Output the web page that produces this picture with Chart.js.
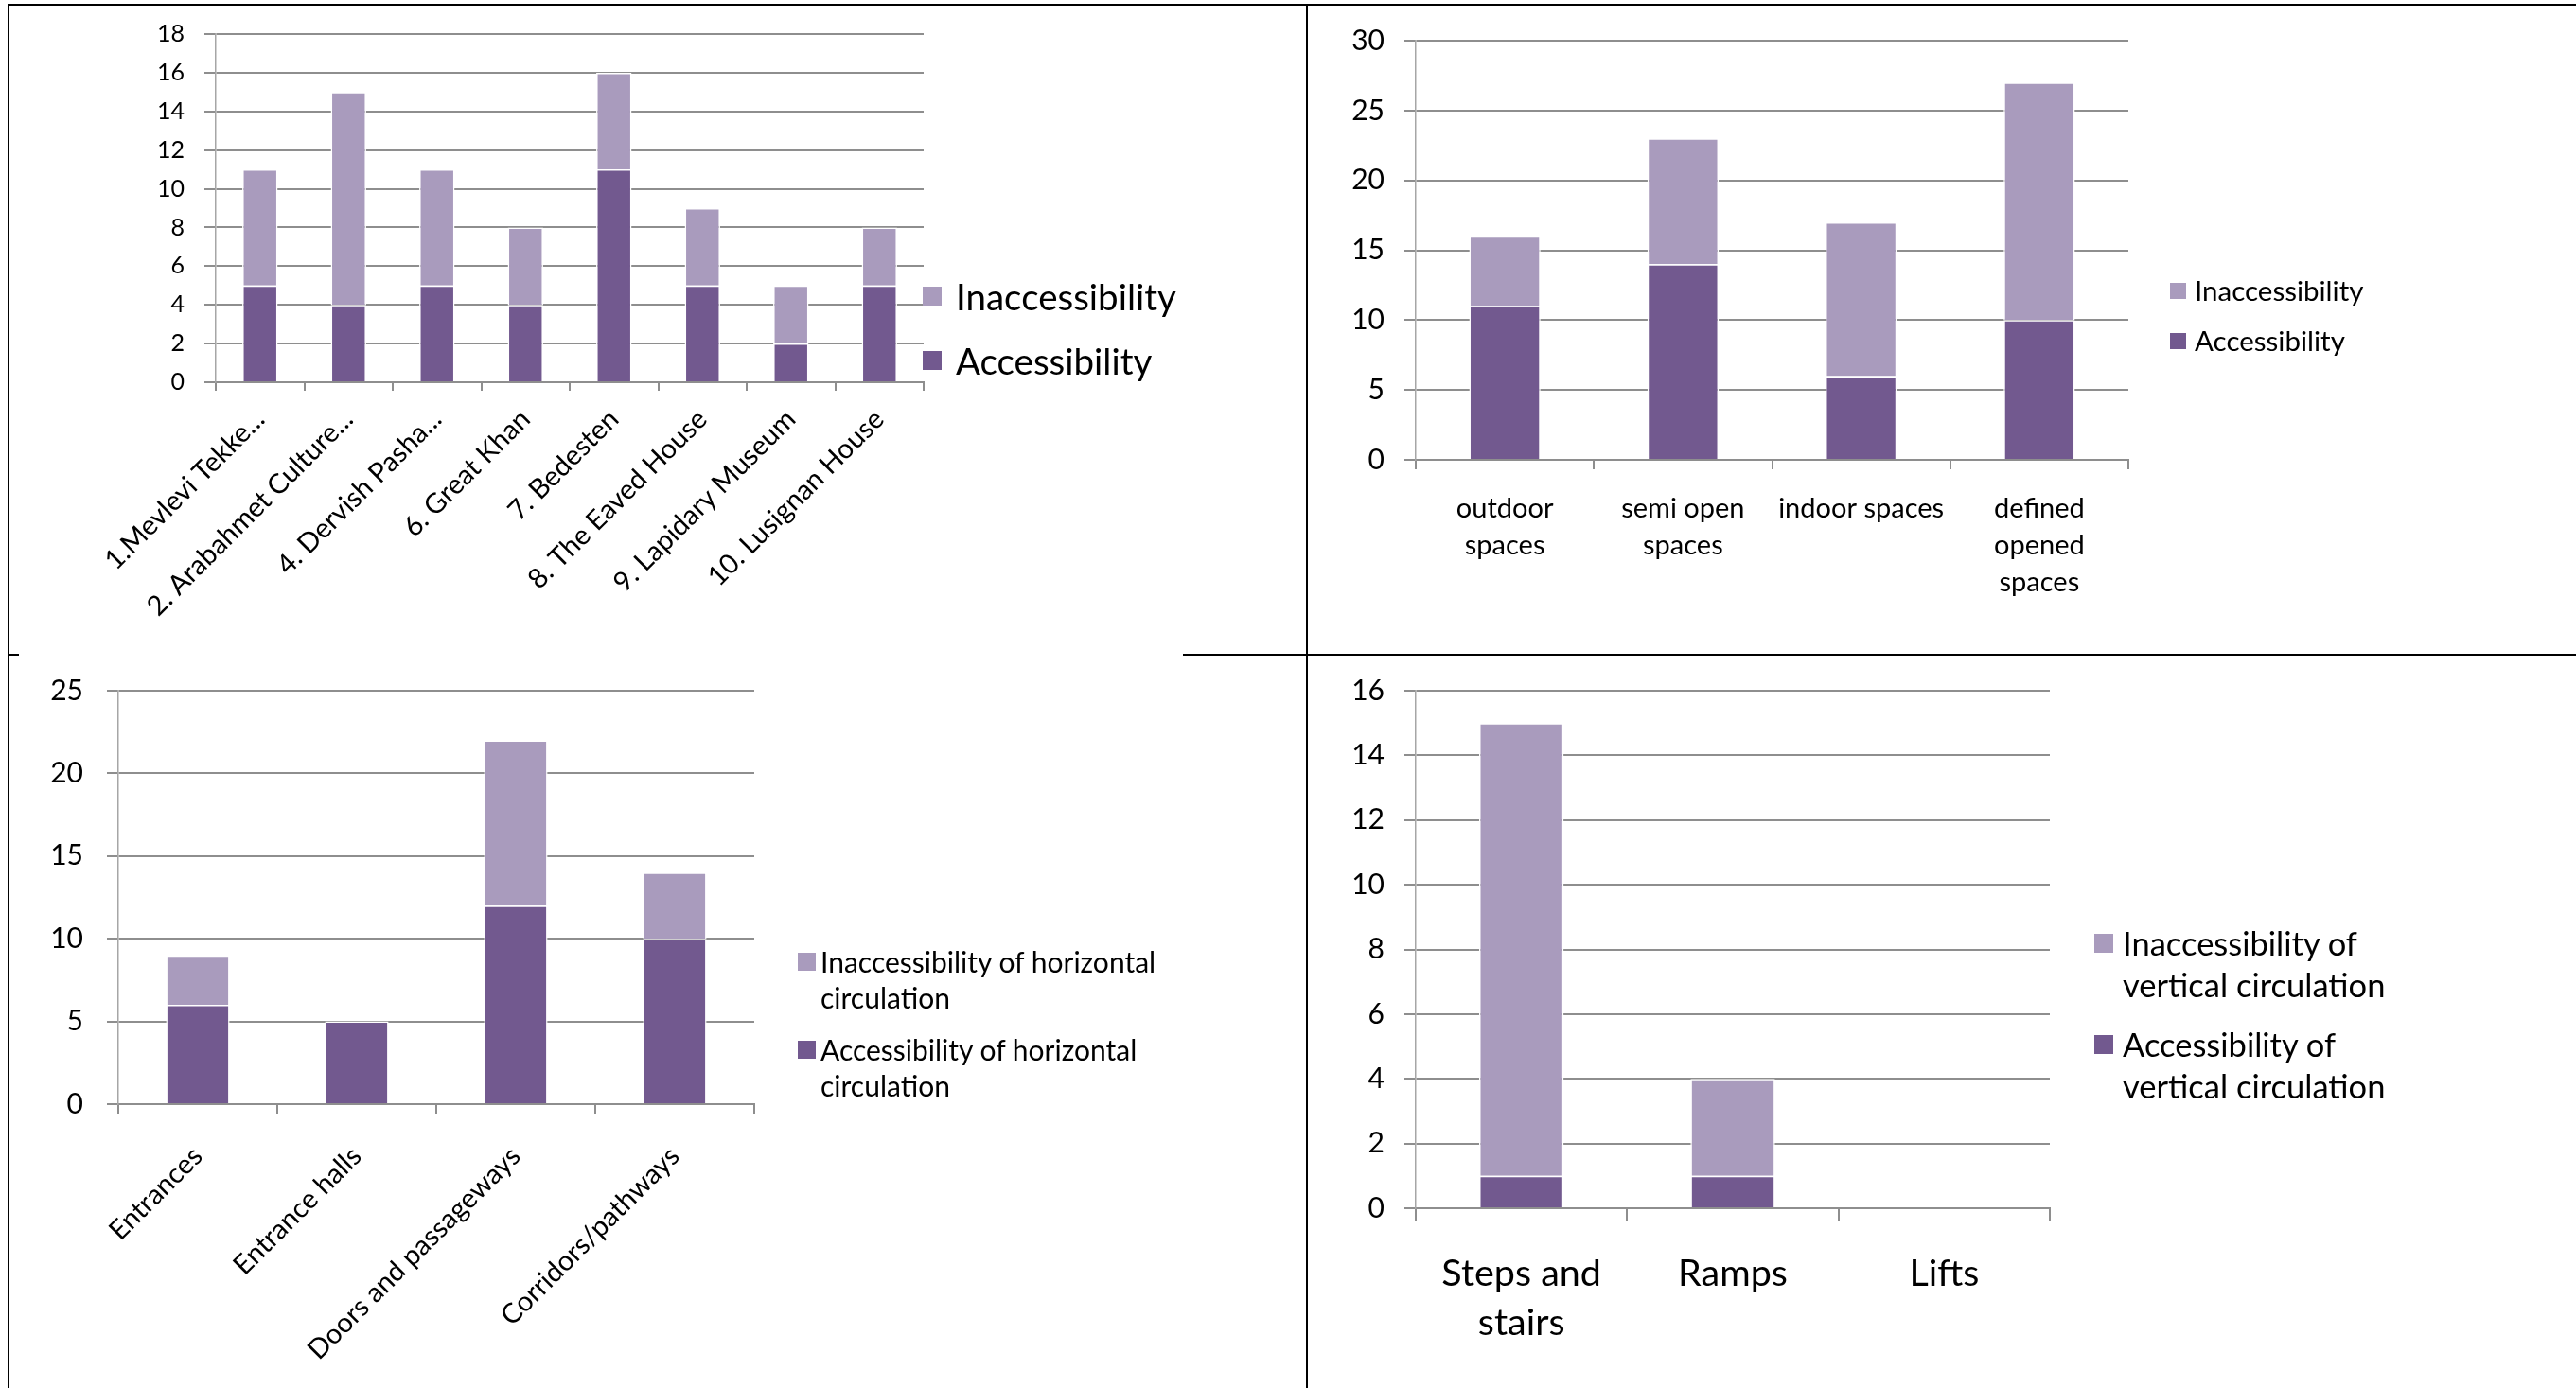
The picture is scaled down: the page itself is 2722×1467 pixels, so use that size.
<!DOCTYPE html>
<html>
<head>
<meta charset="utf-8">
<script src="https://cdn.jsdelivr.net/npm/chart.js@4.4.0/dist/chart.umd.min.js"></script>
<style>
  body { margin: 0; width: 2722px; height: 1467px; background: #fff; position: relative; overflow: hidden; font-family: Lato, sans-serif; }
  .rule { position: absolute; background: #000; }
  canvas { position: absolute; }
  .item { position: absolute; white-space: nowrap; color: #000; }
  .swatch { position: absolute; }
</style>
</head>
<body>
<div class="rule" style="left:8px;top:4px;width:2714px;height:2px"></div>
<div class="rule" style="left:8px;top:4px;width:2px;height:1463px"></div>
<div class="rule" style="left:1380px;top:4px;width:2px;height:1463px"></div>
<div class="rule" style="left:8px;top:691px;width:12px;height:2px"></div>
<div class="rule" style="left:1250px;top:691px;width:1472px;height:2px"></div>

<canvas id="sites"></canvas>
<canvas id="spaces"></canvas>
<canvas id="horizontal"></canvas>
<canvas id="vertical"></canvas>

<script>
const ACC = '#72598f';
const INACC = '#a99bbd';
const GRID = '#8e8e8e';

// top left: buildings
const siteLabels = ['1.Mevlevi Tekke...', '2. Arabahmet Culture...', '4. Dervish Pasha...', '6. Great Khan',
  '7. Bedesten', '8. The Eaved House', '9. Lapidary Museum', '10. Lusignan House'];
const siteAccess = [5, 4, 5, 4, 11, 5, 2, 5];
const siteInaccess = [6, 11, 6, 4, 5, 4, 3, 3];

// top right: space types
const spaceLabels = [['outdoor', 'spaces'], ['semi open', 'spaces'], ['indoor spaces'], ['defined', 'opened', 'spaces']];
const spaceAccess = [11, 14, 6, 10];
const spaceInaccess = [5, 9, 11, 17];

// bottom left: horizontal circulation
const horizLabels = ['Entrances', 'Entrance halls', 'Doors and passageways', 'Corridors/pathways'];
const horizAccess = [6, 5, 12, 10];
const horizInaccess = [3, 0, 10, 4];

// bottom right: vertical circulation
const vertLabels = [['Steps and', 'stairs'], ['Ramps'], ['Lifts']];
const vertAccess = [1, 1, 0];
const vertInaccess = [14, 3, 0];

Chart.defaults.font.family = 'Lato';
Chart.defaults.color = '#000';

// o.left/top/right/bottom: wanted plot area on the page
function stackedBars(id, o) {
  const canvas = document.getElementById(id);
  // chart.js keeps half a tick label + tick padding above the plot area
  const topGap = o.yFont * 1.2 / 2 + o.yPad;
  const cx = o.left - o.yW, cy = o.top - topGap;
  canvas.width = o.canvasW;
  canvas.height = o.bottom + o.xH - cy;
  canvas.style.left = cx + 'px';
  canvas.style.top = cy + 'px';
  return new Chart(canvas, {
    type: 'bar',
    data: {
      labels: o.labels,
      datasets: [
        { label: o.names[1], data: o.access, backgroundColor: ACC, borderColor: '#fff', borderWidth: 1.5 },
        { label: o.names[0], data: o.inaccess, backgroundColor: INACC, borderColor: '#fff', borderWidth: 1.5 }
      ]
    },
    options: {
      responsive: false,
      devicePixelRatio: 1,
      animation: false,
      layout: { padding: { top: 0, right: o.canvasW - (o.right - cx), left: 0, bottom: 0 } },
      datasets: { bar: { categoryPercentage: 1, barPercentage: 0.4 } },
      plugins: { legend: { display: false }, tooltip: { enabled: false } },
      scales: {
        x: {
          stacked: true,
          afterFit: s => { s.height = o.xH; },
          grid: { offset: true, drawOnChartArea: false, drawTicks: true, tickLength: o.xTick, color: GRID, lineWidth: 2 },
          border: { color: GRID, width: 2 },
          ticks: {
            autoSkip: false,
            minRotation: o.rot, maxRotation: o.rot,
            padding: o.xPad,
            font: { size: o.xFont, lineHeight: o.xLine || 1.2 }
          }
        },
        y: {
          stacked: true,
          min: 0, max: o.max,
          afterFit: s => { s.width = o.yW; },
          grid: { color: GRID, lineWidth: 2, drawTicks: true, tickLength: 12 },
          border: { color: '#a6a6a6', width: 1.5 },
          ticks: { stepSize: o.step, padding: o.yPad, font: { size: o.yFont } }
        }
      }
    }
  });
}

function legend(o) {
  // o.items: [[lines], color]; centers are page y of each item's first line
  o.items.forEach(([lines, color], i) => {
    const c = o.centers[i];
    const sw = document.createElement('div');
    sw.className = 'swatch';
    sw.style.cssText = `left:${o.x}px;top:${c - o.box / 2}px;width:${o.box}px;height:${o.box}px;background:${color}`;
    document.body.appendChild(sw);
    const t = document.createElement('div');
    t.className = 'item';
    t.style.cssText = `left:${o.tx}px;top:${c - o.lh / 2}px;font-size:${o.size}px;line-height:${o.lh}px`;
    t.innerHTML = lines.join('<br>');
    document.body.appendChild(t);
  });
}

stackedBars('sites', {
  labels: siteLabels, access: siteAccess, inaccess: siteInaccess, names: ['Inaccessibility', 'Accessibility'],
  left: 228, top: 36, right: 976, bottom: 404, canvasW: 1300, yW: 216, xH: 284,
  max: 18, step: 2, yFont: 25, yPad: 21, xFont: 29, xPad: 13, xTick: 9, rot: 45
});
legend({ x: 975, tx: 1010, box: 20, size: 38.5, lh: 46, centers: [313, 381],
  items: [[['Inaccessibility'], INACC], [['Accessibility'], ACC]] });

stackedBars('spaces', {
  labels: spaceLabels, access: spaceAccess, inaccess: spaceInaccess, names: ['Inaccessibility', 'Accessibility'],
  left: 1496, top: 43, right: 2249, bottom: 486, canvasW: 1200, yW: 110, xH: 202,
  max: 30, step: 5, yFont: 30, yPad: 21, xFont: 29, xLine: 1.345, xPad: 22, xTick: 10, rot: 0
});
legend({ x: 2293, tx: 2319, box: 17, size: 29.5, lh: 36, centers: [307, 360],
  items: [[['Inaccessibility'], INACC], [['Accessibility'], ACC]] });

stackedBars('horizontal', {
  labels: horizLabels, access: horizAccess, inaccess: horizInaccess,
  names: ['Inaccessibility of horizontal circulation', 'Accessibility of horizontal circulation'],
  left: 125, top: 730, right: 797, bottom: 1167, canvasW: 1000, yW: 110, xH: 300,
  max: 25, step: 5, yFont: 30, yPad: 25, xFont: 29, xPad: 28, xTick: 10, rot: 45
});
legend({ x: 843, tx: 867, box: 19, size: 30, lh: 38, centers: [1016, 1109],
  items: [[['Inaccessibility of horizontal', 'circulation'], INACC], [['Accessibility of horizontal', 'circulation'], ACC]] });

stackedBars('vertical', {
  labels: vertLabels, access: vertAccess, inaccess: vertInaccess,
  names: ['Inaccessibility of vertical circulation', 'Accessibility of vertical circulation'],
  left: 1496, top: 730, right: 2166, bottom: 1277, canvasW: 1000, yW: 110, xH: 190,
  max: 16, step: 2, yFont: 30, yPad: 21, xFont: 39.5, xLine: 1.3, xPad: 31, xTick: 13, rot: 0
});
legend({ x: 2213, tx: 2243, box: 20, size: 34.5, lh: 44, centers: [997, 1104],
  items: [[['Inaccessibility of', 'vertical circulation'], INACC], [['Accessibility of', 'vertical circulation'], ACC]] });
</script>
</body>
</html>
